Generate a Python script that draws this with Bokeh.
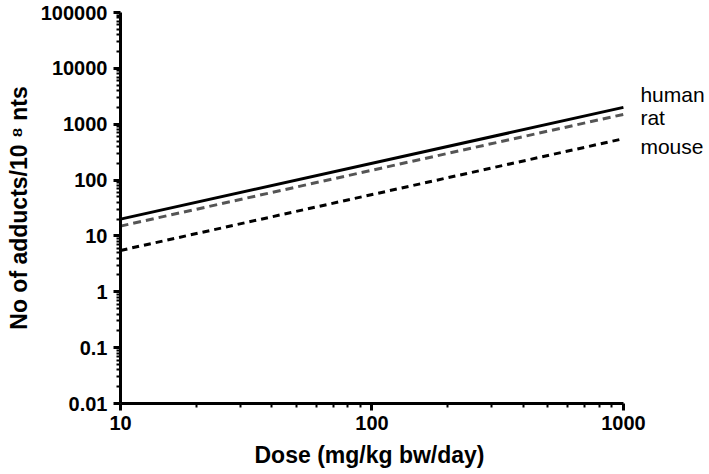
from bokeh.plotting import figure
from bokeh.models import FixedTicker, ColumnDataSource, Title
from bokeh.core.properties import value
from bokeh.embed import file_html
from bokeh.resources import INLINE

# Data
dose = [10, 1000]
human = [20, 2000]
rat = [15, 1500]
mouse = [5.5, 550]
series_names = ["human", "rat", "mouse"]
y_ticks = [0.01, 0.1, 1, 10, 100, 1000, 10000, 100000]
x_ticks = [10, 100, 1000]
x_title = "Dose (mg/kg bw/day)"
y_title = "No of adducts/10 \u2078 nts"

FONT = "Liberation Sans"

# x range extends beyond the last dose so that the series labels fit inside the frame;
# the axis itself is bounded to the dose range.
p = figure(width=709, height=474, x_axis_type="log", y_axis_type="log",
           x_range=(10, 2160), y_range=(0.01, 100000),
           output_backend="svg", toolbar_location=None,
           min_border_left=120, min_border_right=2, min_border_top=12, min_border_bottom=70)
p.outline_line_color = None
p.xgrid.visible = False
p.ygrid.visible = False
p.background_fill_color = "white"
p.border_fill_color = "white"

p.line(dose, human, line_color="black", line_width=3)
p.line(dose, rat, line_color="#555555", line_width=3, line_dash="8 5")
p.line(dose, mouse, line_color="black", line_width=3, line_dash="7 5")

ends = [human[-1], rat[-1], mouse[-1]]
src = ColumnDataSource(dict(x=[dose[-1]] * 3, y=ends, t=series_names,
                            yo=[-13, 3, 8]))
p.text(x="x", y="y", text="t", source=src, x_offset=17, y_offset="yo",
       text_font=value(FONT), text_font_size="21px", text_color="black",
       text_baseline="alphabetic", text_align="left")

for ax in (p.xaxis[0], p.yaxis[0]):
    ax.axis_line_width = 3
    ax.axis_line_color = "black"
    ax.major_tick_line_width = 3
    ax.minor_tick_line_width = 2
    ax.major_tick_out = 7
    ax.major_tick_in = 0
    ax.minor_tick_out = 4
    ax.minor_tick_in = 0
    ax.major_label_text_font = FONT
    ax.major_label_text_font_style = "bold"
    ax.major_label_text_font_size = "20px"
    ax.major_label_text_color = "black"
    ax.axis_label_text_font = FONT
    ax.axis_label_text_font_style = "bold"
    ax.axis_label_text_font_size = "23px"
    ax.axis_label_text_color = "black"

p.xaxis[0].bounds = (dose[0], dose[-1])
p.yaxis[0].ticker = FixedTicker(ticks=y_ticks,
    minor_ticks=[m * 10 ** e for e in range(-2, 5) for m in range(2, 10)])
p.xaxis[0].ticker = FixedTicker(ticks=x_ticks,
    minor_ticks=[m * 10 ** e for e in range(1, 3) for m in range(2, 10)])
p.yaxis[0].major_label_overrides = {t: ("%g" % t) if t < 1 else str(int(t)) for t in y_ticks}
p.xaxis[0].major_label_overrides = {t: str(int(t)) for t in x_ticks}
p.yaxis[0].major_label_standoff = 6
p.xaxis[0].major_label_standoff = 5
p.yaxis[0].axis_label = y_title
p.yaxis[0].axis_label_standoff = 6

# x axis title centred under the bounded axis (not the wider frame)
xt = Title(text=x_title, align="left", offset=134, standoff=14,
           text_font=FONT, text_font_style="bold", text_font_size="23px",
           text_color="black")
p.add_layout(xt, "below")

open("out.html", "w").write(file_html(p, INLINE))
